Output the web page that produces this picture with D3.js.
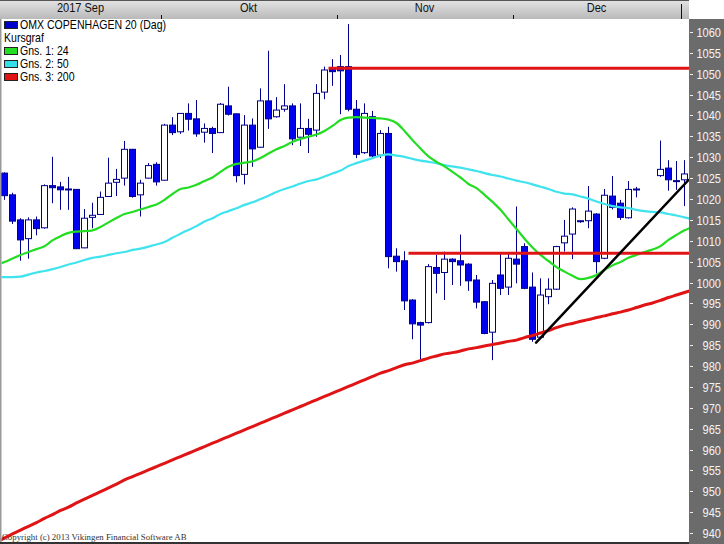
<!DOCTYPE html>
<html><head><meta charset="utf-8">
<script src="https://cdn.jsdelivr.net/npm/d3@7"></script>
<style>body{margin:0;background:#fff;}svg{display:block;}</style>
</head><body><svg id="c" width="724" height="544"></svg>
<script>
// ---------- DATA ----------
const dates = [
"2017-09-04","2017-09-05","2017-09-06","2017-09-07","2017-09-08","2017-09-11","2017-09-12","2017-09-13","2017-09-14","2017-09-15",
"2017-09-18","2017-09-19","2017-09-20","2017-09-21","2017-09-22","2017-09-25","2017-09-26","2017-09-27","2017-09-28","2017-09-29",
"2017-10-02","2017-10-03","2017-10-04","2017-10-05","2017-10-06","2017-10-09","2017-10-10","2017-10-11","2017-10-12","2017-10-13",
"2017-10-16","2017-10-17","2017-10-18","2017-10-19","2017-10-20","2017-10-23","2017-10-24","2017-10-25","2017-10-26","2017-10-27",
"2017-10-30","2017-10-31","2017-11-01","2017-11-02","2017-11-03","2017-11-06","2017-11-07","2017-11-08","2017-11-09","2017-11-10",
"2017-11-13","2017-11-14","2017-11-15","2017-11-16","2017-11-17","2017-11-20","2017-11-21","2017-11-22","2017-11-23","2017-11-24",
"2017-11-27","2017-11-28","2017-11-29","2017-11-30","2017-12-01","2017-12-04","2017-12-05","2017-12-06","2017-12-07","2017-12-08",
"2017-12-11","2017-12-12","2017-12-13","2017-12-14","2017-12-15","2017-12-18","2017-12-19","2017-12-20","2017-12-21","2017-12-22",
"2017-12-25","2017-12-26","2017-12-27","2017-12-28","2017-12-29","2018-01-02"];

const openV = [1026.2,1021.0,1015.0,1010.5,1015.0,1013.1,1023.2,1022.9,1022.4,1022.3,
1008.3,1015.6,1016.3,1020.6,1024.0,1025.0,1031.9,1021.0,1025.0,1028.3,
1024.5,1037.7,1036.1,1040.5,1039.2,1036.0,1036.9,1035.9,1042.3,1040.4,
1025.9,1037.7,1032.4,1043.5,1039.7,1041.5,1042.3,1034.8,1036.9,1036.5,
1045.6,1051.3,1051.7,1051.7,1041.5,1031.1,1039.7,1030.5,1035.7,1006.3,
1005.2,995.8,990.4,990.4,1003.6,1002.4,1005.6,1005.2,1004.4,1000.6,
995.4,988.1,1001.8,998.9,1005.6,1008.6,998.9,986.9,996.6,998.4,
1009.5,1011.6,1014.6,1014.8,1016.4,1005.8,1020.7,1019.0,1015.5,1022.2,
null,null,1025.6,1027.4,1024.4,1024.6];
const highV = [1026.4,1021.5,1015.4,1015.6,1015.8,1023.5,1030.1,1024.1,1025.3,1022.4,
1017.6,1019.1,1021.8,1029.9,1027.2,1033.9,1032.0,1024.6,1028.6,1028.8,
1038.0,1039.6,1040.6,1042.9,1043.7,1038.1,1037.3,1043.0,1046.9,1040.5,
1040.1,1039.3,1046.5,1055.5,1044.4,1047.5,1042.9,1042.9,1039.2,1047.5,
1051.7,1053.5,1054.5,1061.9,1043.7,1042.9,1041.1,1036.5,1037.3,1008.2,
1007.5,996.0,990.6,1004.4,1006.6,1007.4,1005.8,1011.5,1004.6,1001.8,
995.5,1000.6,1007.1,1007.1,1018.2,1009.4,1002.4,1001.0,1001.0,1008.8,
1015.0,1018.0,1014.9,1023.1,1016.6,1022.4,1025.5,1019.8,1024.3,1022.9,
null,null,1034.0,1029.3,1029.1,1029.3];
const lowV = [1019.8,1014.0,1005.2,1005.7,1011.3,1012.9,1019.0,1017.4,1017.4,1008.0,
1008.2,1013.0,1016.2,1020.5,1020.7,1023.2,1020.3,1015.8,1024.9,1023.2,
1024.4,1035.3,1035.6,1036.4,1034.9,1033.5,1031.0,1035.8,1040.0,1024.0,
1023.5,1027.7,1032.3,1036.8,1039.5,1040.9,1032.9,1032.7,1031.0,1034.9,
1043.9,1047.1,1040.3,1041.0,1029.8,1030.8,1030.0,1029.8,1003.4,1002.6,
993.4,986.4,981.4,990.2,997.4,995.8,999.4,999.2,998.0,993.8,
987.6,981.4,997.0,997.0,999.8,998.4,985.8,986.5,994.8,998.2,
1007.4,1005.6,1014.3,1013.0,1002.2,1005.6,1017.5,1015.0,1015.3,1020.4,
null,null,1025.3,1022.0,1022.2,1018.3];
const closeV = [1020.8,1014.7,1010.2,1015.0,1012.9,1023.2,1022.7,1022.2,1022.3,1008.1,
1015.4,1016.1,1020.4,1023.8,1024.7,1031.9,1020.6,1023.8,1028.0,1024.1,
1037.7,1035.9,1040.5,1039.1,1035.6,1036.9,1035.7,1042.7,1040.3,1025.6,
1037.7,1032.0,1043.5,1039.2,1041.3,1042.3,1034.4,1036.9,1035.5,1045.3,
1050.9,1050.5,1050.7,1041.5,1030.7,1040.5,1030.3,1035.7,1006.2,1005.0,
995.6,990.1,989.8,1003.8,1002.2,1005.6,1005.0,1004.2,1000.4,995.3,
987.8,999.8,998.6,1005.8,1004.4,998.6,986.4,997.0,998.4,1008.6,
1011.1,1017.6,1014.8,1017.1,1005.0,1020.9,1018.0,1015.6,1022.3,1022.4,
null,null,1027.1,1024.6,1024.2,1026.0];

// moving averages, one value per day slot, starting one slot before the first date
const maFirstSlot = -1;
const ma24 = [1004.2,1004.9,1005.75,1006.6,1007.3,1008.0,1008.7,1010.1,1011.1,1011.9,1012.2,1012.3,1012.5,1013.3,1014.4,1015.45,1016.4,1016.9,1017.5,1018.1,1018.7,
1019.8,1021.2,1022.4,1022.75,1023.4,1024.3,1025.15,1026.5,1027.7,1028.4,1028.7,1029.0,1029.8,1030.9,1031.9,1032.7,1033.7,1034.4,1034.9,1035.45,
1036.3,1037.5,1038.9,1039.5,1039.6,1039.5,1039.4,1039.3,1039.0,1038.2,1036.3,1034.1,1032.1,1030.2,1028.9,1027.8,1026.5,1025.15,1023.6,1022.6,
1021.0,1019.3,1017.4,1015.1,1012.8,1010.5,1008.4,1006.6,1005.15,1003.7,1002.6,1001.6,1000.8,1001.1,1001.8,1003.0,1004.1,1004.9,1005.9,1006.6,
1007.3,1007.9,1008.7,1010.2,1011.4,1012.5,1013.3];
const ma50 = [1001.3,1001.3,1001.3,1001.4,1001.9,1002.4,1002.75,1003.2,1003.7,1004.3,1004.8,1005.4,1005.9,1006.2,1006.6,1007.0,1007.3,1007.8,1008.1,1008.6,1009.1,
1009.7,1010.7,1011.7,1012.6,1013.5,1014.6,1015.4,1016.4,1017.1,1017.8,1018.6,1019.2,1020.0,1020.8,1021.7,1022.4,1023.0,1023.7,1024.3,1024.7,
1025.4,1026.1,1026.8,1027.9,1028.6,1029.2,1029.8,1030.4,1030.7,1030.4,1030.1,1029.6,1029.2,1028.9,1028.6,1028.1,1027.8,1027.5,1027.1,1026.7,
1026.2,1025.75,1025.4,1024.9,1024.4,1024.0,1023.5,1022.95,1022.4,1021.75,1021.3,1021.1,1020.6,1020.1,1019.4,1018.8,1018.3,1018.0,1017.8,1017.4,
1017.1,1016.9,1016.8,1016.4,1016.05,1015.6,1015.2];
const ma200 = [937.8,938.8,939.8,940.7,941.6,942.5,943.5,944.4,945.4,946.2,947.2,948.1,949.0,949.9,950.8,951.7,952.7,
953.5,954.3,955.1,955.9,956.7,957.5,958.3,959.1,959.9,960.7,961.5,962.3,963.1,963.9,964.7,965.5,966.3,967.1,967.9,968.7,
969.5,970.3,971.1,971.9,972.7,973.5,974.3,975.1,975.9,976.7,977.5,978.3,978.9,979.6,980.3,980.7,981.3,981.9,982.4,982.9,
983.2,983.6,984.1,984.4,984.8,985.15,985.5,985.9,986.2,986.8,987.3,987.9,988.5,989.2,989.8,990.2,990.7,991.1,991.6,
992.0,992.5,992.9,993.4,994.0,994.6,995.1,995.7,996.4,997.0,997.6,998.2];

const priceTicks = [940,945,950,955,960,965,970,975,980,985,990,995,1000,1005,1010,1015,1020,1025,1030,1035,1040,1045,1050,1055,1060];
const monthLabels = ["2017 Sep","Okt","Nov","Dec"];
const monthKeys   = ["2017-09","2017-10","2017-11","2017-12","2018-01"];
const legendItems = [
  {label:"OMX COPENHAGEN 20 (Dag)", color:"#0000cc"},
  {label:"Kursgraf", color:null},
  {label:"Gns. 1: 24", color:"#22dd22"},
  {label:"Gns. 2: 50", color:"#33e0e6"},
  {label:"Gns. 3: 200", color:"#e01414"}];
// drawn annotations: horizontal levels (start slot, price) and trend line
const levelStart = [40.5, 50.5];
const levelPrice = [1051.3, 1007.0];
const trendSlots = [66.45, 85.5];
const trendPrices = [985.6, 1024.55];

// ---------- CHART ----------
const W = 724, H = 544;
const plot = {x0: 1.5, x1: 689, y0: 19, y1: 542};
const svg = d3.select("#c");
const x = d3.scaleLinear().domain([0, dates.length - 1]).range([4.5, 4.5 + 8 * (dates.length - 1)]);
const y = d3.scaleLinear().domain([940, 1060]).range([533, 32]);
const SANS = "Arial, 'Liberation Sans', sans-serif";

function sText(parent, tx, ty, sx, str, anchor) {
  return parent.append("text").attr("transform", `translate(${tx},${ty}) scale(${sx},1)`)
    .attr("text-anchor", anchor || "start").text(str);
}

const defs = svg.append("defs");
const g1 = defs.append("linearGradient").attr("id","hdr").attr("x1",0).attr("y1",0).attr("x2",0).attr("y2",1);
g1.append("stop").attr("offset","0%").attr("stop-color","#e4e4e4");
g1.append("stop").attr("offset","100%").attr("stop-color","#b9b9b9");
defs.append("clipPath").attr("id","clip").append("rect")
  .attr("x", plot.x0).attr("y", plot.y0).attr("width", plot.x1 - plot.x0).attr("height", plot.y1 - plot.y0);

svg.append("rect").attr("width", W).attr("height", H).attr("fill", "#fff");

// header bar
svg.append("rect").attr("x",0).attr("y",0).attr("width",plot.x1).attr("height",19).attr("fill","url(#hdr)");
svg.append("rect").attr("x",0).attr("y",0).attr("width",plot.x1).attr("height",1).attr("fill","#555");

// month boundaries
const ds = dates.map(d => d.slice(0,7));
const bounds = monthKeys.map(k => ds.indexOf(k));
const hdr = svg.append("g").attr("font-family",SANS).attr("font-size",12).attr("fill","#111");
for (let m = 0; m < monthKeys.length; m++) {
  const b = bounds[m];
  if (b > 0) {
    const bx = Math.round(x(b - 0.5)) + 0.5;
    const isYear = monthKeys[m].endsWith("-01");
    hdr.append("line").attr("x1",bx).attr("x2",bx).attr("y1", isYear ? 4 : 15).attr("y2",19)
      .attr("stroke","#111").attr("stroke-width",1);
  }
  if (m < monthLabels.length) {
    const a = x(Math.max(b, 0) - 0.5), e = x(bounds[m+1] - 0.5);
    sText(hdr, (a+e)/2, 12, 0.92, monthLabels[m], "middle");
  }
}

// right axis panel
svg.append("rect").attr("x",plot.x1).attr("y",19).attr("width",W-plot.x1).attr("height",H-19).attr("fill","#6b6b6b");
const ax = svg.append("g").attr("font-family",SANS).attr("font-size",12).attr("fill","#f4f4f4");
priceTicks.forEach(v => {
  const ty = Math.round(y(v)) + 0.5;
  ax.append("line").attr("x1",690).attr("x2",693).attr("y1",ty).attr("y2",ty).attr("stroke","#f0f0f0");
  sText(ax, 721, ty + 4.3, 0.92, v, "end");
});

// borders
svg.append("rect").attr("x",0).attr("y",19).attr("width",1.5).attr("height",H-19).attr("fill","#9a9a9a");
svg.append("rect").attr("x",0).attr("y",542).attr("width",plot.x1).attr("height",2).attr("fill","#333");

const pl = svg.append("g").attr("clip-path","url(#clip)");

// candles
const candles = dates.map((d,i) => ({i, o:openV[i], h:highV[i], l:lowV[i], c:closeV[i]})).filter(d => d.o != null);
const cg = pl.append("g");
candles.forEach(d => {
  const cx = x(d.i);
  cg.append("line").attr("x1",cx).attr("x2",cx).attr("y1",y(d.h)).attr("y2",y(d.l))
    .attr("stroke","#00008c").attr("stroke-width",1);
  const top = y(Math.max(d.o,d.c)), bot = y(Math.min(d.o,d.c));
  const down = d.c < d.o;
  cg.append("rect").attr("x",cx-3).attr("y",top).attr("width",6).attr("height",Math.max(bot-top,1))
    .attr("fill", down ? "#0000ee" : "#ffffff").attr("stroke","#00008c").attr("stroke-width",1);
});

// moving averages
const maLine = d3.line().x((v,k) => x(k + maFirstSlot)).y(v => y(v)).curve(d3.curveMonotoneX);
[[ma50,"#3fe3ee",2.2],[ma24,"#22dd22",2.2],[ma200,"#e01414",3]].forEach(([arr,col,w]) => {
  pl.append("path").attr("d", maLine(arr)).attr("fill","none").attr("stroke",col).attr("stroke-width",w);
});

// horizontal levels
levelPrice.forEach((p,k) => {
  pl.append("line").attr("x1",x(levelStart[k])).attr("x2",plot.x1).attr("y1",y(p)).attr("y2",y(p))
    .attr("stroke","#e01414").attr("stroke-width",3);
});
// trend line
pl.append("line").attr("x1",x(trendSlots[0])).attr("y1",y(trendPrices[0]))
  .attr("x2",x(trendSlots[1])).attr("y2",y(trendPrices[1]))
  .attr("stroke","#000").attr("stroke-width",2.5).attr("stroke-linecap","round");

// legend
const lg = svg.append("g").attr("font-family",SANS).attr("font-size",12).attr("fill","#000");
legendItems.forEach((it,k) => {
  const cy = 25 + k*13;
  if (it.color) {
    lg.append("rect").attr("x",4.5).attr("y",cy-3.5).attr("width",13).attr("height",7)
      .attr("fill",it.color).attr("stroke","#222").attr("stroke-width",1);
    sText(lg, 20, cy + 4.3, 0.88, it.label);
  } else {
    sText(lg, 4, cy + 4.3, 0.88, it.label);
  }
});

// copyright
svg.append("text").attr("x",2).attr("y",540).attr("font-family","'Liberation Serif','Times New Roman',serif")
  .attr("font-size",8.8).attr("fill","#333").text("Copyright (c) 2013 Vikingen Financial Software AB");
</script></body></html>
